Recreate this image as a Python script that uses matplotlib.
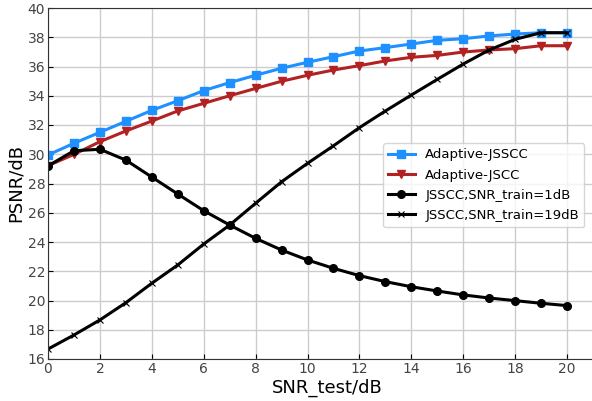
import matplotlib
matplotlib.use('Agg')
import matplotlib.pyplot as plt
import numpy as np

snr = np.arange(0, 21)
adaptive_jsscc = [29.95, 30.75, 31.5, 32.25, 33.0, 33.66, 34.35, 34.9, 35.4, 35.88, 36.29,
                  36.67, 37.06, 37.29, 37.54, 37.79, 37.9, 38.09, 38.22, 38.31, 38.31]
adaptive_jscc = [29.22, 29.99, 30.86, 31.59, 32.27, 32.96, 33.48, 34.0, 34.5, 34.99, 35.4,
                 35.76, 36.06, 36.38, 36.63, 36.76, 36.99, 37.13, 37.22, 37.42, 37.42]
jsscc_1db = [29.2, 30.24, 30.34, 29.6, 28.44, 27.28, 26.14, 25.16, 24.25, 23.45, 22.77,
             22.2, 21.7, 21.29, 20.94, 20.65, 20.38, 20.17, 19.99, 19.81, 19.65]
jsscc_19db = [16.68, 17.64, 18.67, 19.85, 21.18, 22.43, 23.86, 25.16, 26.65, 28.12, 29.38,
              30.58, 31.82, 32.96, 34.05, 35.12, 36.17, 37.13, 37.86, 38.31, 38.31]

fig = plt.figure(figsize=(5.92, 4.01), dpi=100)
# axes runs past the right edge of the figure, like the reference
ax = fig.add_axes([48/592, 1-359/401, 558/592, 351/401])

ax.plot(snr, adaptive_jsscc, color='#1e90ff', marker='s', ms=6, lw=2.2, label='Adaptive-JSSCC')
ax.plot(snr, adaptive_jscc, color='#b22222', marker='v', ms=6, lw=2.2, label='Adaptive-JSCC')
ax.plot(snr, jsscc_1db, color='black', marker='o', ms=5.5, lw=2.2, label='JSSCC,SNR_train=1dB')
ax.plot(snr, jsscc_19db, color='black', marker='x', ms=4.5, mew=0.8, lw=2.2, label='JSSCC,SNR_train=19dB')

ax.set_xlim(0, 21.5)
ax.set_ylim(16, 40)
ax.set_xticks(np.arange(0, 21, 2))
ax.set_yticks(np.arange(16, 41, 2))
ax.tick_params(direction='in', labelsize=10, labelcolor='#444444', pad=2)
ax.grid(True, color='#cccccc', lw=1)
ax.set_axisbelow(True)
for s in ax.spines.values():
    s.set_color('#333333')

ax.set_xlabel('SNR_test/dB', fontsize=13, labelpad=2)
ax.set_ylabel('PSNR/dB', fontsize=13, labelpad=2)

ax.legend(loc='upper left', bbox_to_anchor=(383/592, 1-143/401), bbox_transform=fig.transFigure,
          fontsize=9.5, handlelength=2.0, handletextpad=0.8, borderaxespad=0, labelspacing=0.55)

fig.savefig('out.png', dpi=100)
